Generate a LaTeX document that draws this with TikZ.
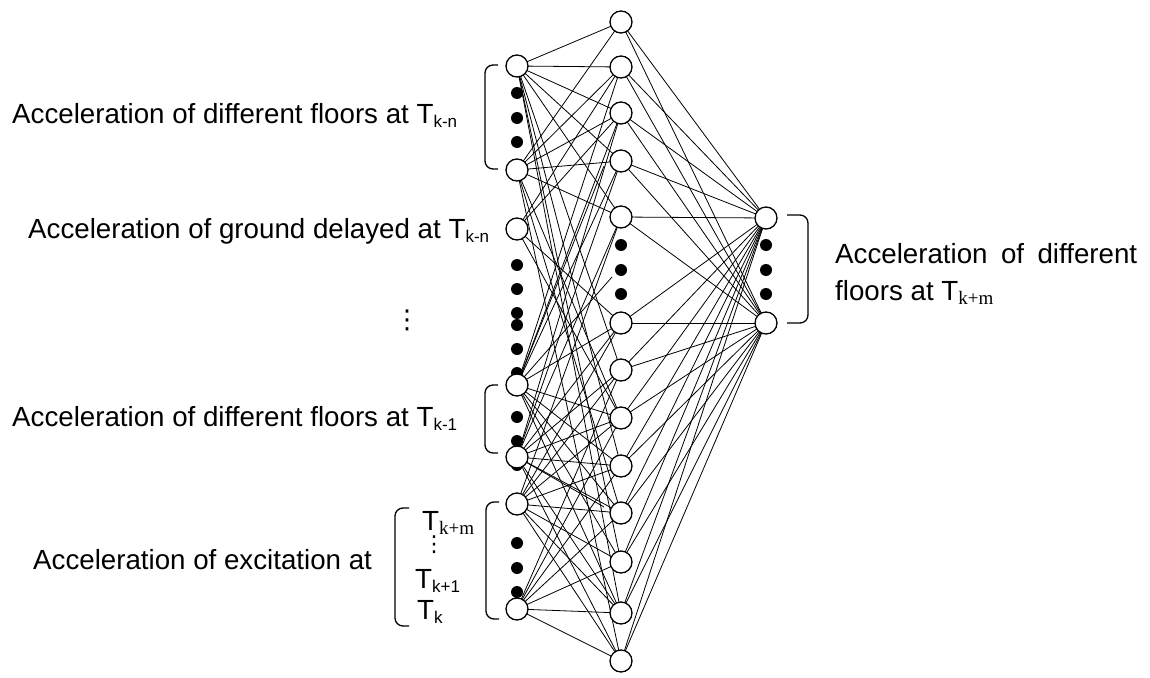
\documentclass[tikz,border=0pt]{standalone}
\usepackage{fontspec}
\setmainfont{Liberation Sans}
\newfontfamily\serifsub{Liberation Serif}
\newfontfamily\symfont{DejaVu Sans}
\newcommand\lowsub[1]{\raisebox{-4.5pt}{\fontsize{17}{18}\selectfont #1}}
\newcommand\lowsubserif[1]{\raisebox{-4.5pt}{\fontsize{19}{20}\serifsub #1}}
\begin{document}
\begin{tikzpicture}[x=1pt,y=-1pt,
  unit/.style={circle,draw,fill=white,line width=1.3pt,minimum size=22pt,inner sep=0pt},
  blob/.style={circle,fill=black,minimum size=12pt,inner sep=0pt},
  link/.style={line width=0.8pt},
  brk/.style={line width=1.3pt,rounded corners=8pt},
  lbl/.style={anchor=base west,inner sep=0pt,font=\fontsize{27.7}{33}\selectfont},
  vd/.style={anchor=center,inner sep=0pt,font=\fontsize{26}{26}\symfont}]
\useasboundingbox (0,0) rectangle (1150,677);

% input layer
\foreach \n/\y in {1/66,2/170,3/229,4/385,5/457,6/504,7/609}
  \coordinate (i\n) at (517,\y);
% hidden layer
\foreach \n/\y in {1/22,2/67,3/113,4/161,5/217,6/323,7/370,8/418,9/466,10/513,11/562,12/613,13/661}
  \coordinate (h\n) at (621,\y);
% output layer
\coordinate (o1) at (766,218);
\coordinate (o2) at (766,323);
% loose ends of three weights
\coordinate (e1) at (604,166);
\coordinate (e2) at (612,277);
\coordinate (e3) at (604,507);

% input to hidden weights
\foreach \a/\list in {1/{1,2,3,4,5,7,9,11,12},
                      2/{1,2,3,4,5,8,10,13},
                      3/{2,3,6,8},
                      4/{2,3,4,6,8,9,10,11,12},
                      5/{3,4,5,6,7,8,9,10,12,13},
                      6/{5,6,7,8,9,10,11,12,13},
                      7/{7,8,9,10,11,12,13}}
  \foreach \b in \list
    \draw[link] (i\a) -- (h\b);
\draw[link] (i4) -- (e1);
\draw[link] (i4) -- (e2);
\draw[link] (i5) -- (e3);
% hidden to output weights
\foreach \b in {1,...,13}{
  \draw[link] (h\b) -- (o1);
  \draw[link] (h\b) -- (o2);
}

% dots standing for omitted units
\foreach \y [count=\k] in {93,118,142,265,289,313,325,349,373,417,441,465,543,568,592}
  \node[blob] (di\k) at (517,\y) {};
\foreach \y [count=\k] in {245,270,294}{
  \node[blob] (dh\k) at (621,\y) {};
  \node[blob] (do\k) at (766,\y) {};
}

% neurons
\foreach \n in {1,...,7}
  \node[unit] (I\n) at (i\n) {};
\foreach \n in {1,...,13}
  \node[unit] (H\n) at (h\n) {};
\node[unit] (O1) at (o1) {};
\node[unit] (O2) at (o2) {};

% brackets
\draw[brk] (498,65) -- (485,65) -- (485,169) -- (498,169);
\draw[brk] (498,385) -- (485,385) -- (485,453) -- (498,453);
\draw[brk] (499,502) -- (486,502) -- (486,619) -- (499,619);
\draw[brk] (409,508) -- (395,508) -- (395,626) -- (409,626);
\draw[brk] (787,215) -- (808,215) -- (808,323) -- (787,323);

% labels
\node[lbl] (l1) at (12,123) {Acceleration of different floors at T\lowsub{k-n}};
\node[lbl] (l2) at (28,238) {Acceleration of ground delayed at T\lowsub{k-n}};
\node[lbl] (l3) at (12,426) {Acceleration of different floors at T\lowsub{k-1}};
\node[lbl] (l4) at (33,569) {Acceleration of excitation at};
\node[vd] (v1) at (407,320) {⋮};
\node[lbl] (t1) at (422,530) {T\lowsubserif{k+m}};
\node[vd,font=\fontsize{22}{22}\symfont] (v2) at (434,545) {⋮};
\node[lbl] (t2) at (415,588) {T\lowsub{k+1}};
\node[lbl] (t3) at (417,619) {T\lowsub{k}};
\node[lbl] (r1) at (835,263) {\makebox[302pt][s]{Acceleration of different}};
\node[lbl] (r2) at (835,300) {floors at T\lowsubserif{k+m}};
\end{tikzpicture}
\end{document}
